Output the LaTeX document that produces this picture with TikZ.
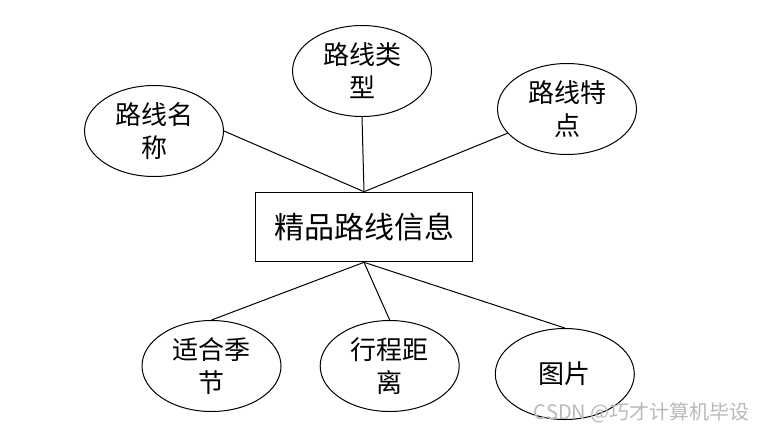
\documentclass[tikz,border=0pt]{standalone}
\usepackage{fontspec}
\setmainfont{Noto Sans CJK SC}
\usetikzlibrary{shapes.geometric}
\begin{document}
\begin{tikzpicture}[
  x=0.5pt, y=-0.5pt,
  attr/.style={ellipse, draw, line width=0.5pt, inner sep=0pt,
               minimum width=69.5pt, minimum height=45.5pt,
               font=\fontsize{13}{16.5}\selectfont, align=center},
  entity/.style={rectangle, draw, line width=0.6pt, inner sep=0pt,
                 minimum width=108.3pt, minimum height=34.7pt,
                 font=\fontsize{15}{18}\selectfont},
  link/.style={line width=0.5pt}
]
\useasboundingbox (0,0) rectangle (766,435);

\node[entity] (info) at (364,227) {精品路线信息};

\node[attr] (name) at (154,131) {路线名\\称};
\node[attr] (kind) at (362,71) {路线类\\型};
\node[attr] (feat) at (567,109) {路线特\\点};
\node[attr] (season) at (211.5,366) {适合季\\节};
\node[attr] (dist) at (389.7,366) {行程距\\离};
\node[attr] (pic) at (564.8,374) {图片};

\draw[link] (name.east) -- (info.north);
\draw[link] (kind.south) -- (info.north);
\draw[link] (feat) -- (info.north);
\draw[link] (info.south) -- (season.north);
\draw[link] (info.south) -- (dist.north);
\draw[link] (info.south) -- (pic.north);

\node[text=gray!55, font=\fontsize{10}{12}\selectfont, anchor=east, inner sep=0pt] (mark) at (750,413) {CSDN @巧才计算机毕设};
\end{tikzpicture}
\end{document}
